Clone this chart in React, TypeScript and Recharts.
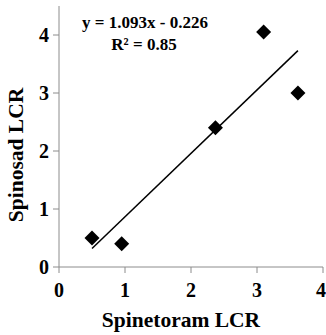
import { ScatterChart, Scatter, XAxis, YAxis, ReferenceLine } from 'recharts'

const spinetoramLcr = [0.5, 0.95, 2.37, 3.1, 3.62]
const spinosadLcr = [0.5, 0.4, 2.4, 4.05, 3.0]
const trendX = [0.5, 3.62]
const trendY = [0.32, 3.73]
const xTicks = [0, 1, 2, 3, 4]
const yTicks = [0, 1, 2, 3, 4]

const points = spinetoramLcr.map((x, i) => ({ x, y: spinosadLcr[i] }))

const FONT = '"Liberation Serif", "Times New Roman", serif'
const AXIS_COLOR = '#8c8c8c'

function Diamond(props: any) {
  const { cx, cy } = props
  const r = 7.5
  return <path d={`M${cx},${cy - r}L${cx + r},${cy}L${cx},${cy + r}L${cx - r},${cy}Z`} fill="#000" />
}

function App() {
  return (
    <div style={{ position: 'absolute', left: 0, top: 0, background: '#fff' }}>
      <ScatterChart width={326} height={335} margin={{ top: 6, right: 3, bottom: 0, left: 0 }}>
        <XAxis
          type="number"
          dataKey="x"
          domain={[0, 4]}
          ticks={xTicks}
          stroke={AXIS_COLOR}
          tickSize={6}
          tickMargin={10}
          height={68}
          tick={{ fill: '#000', fontSize: 20, fontWeight: 'bold', fontFamily: FONT }}
          allowDataOverflow
        />
        <YAxis
          type="number"
          dataKey="y"
          domain={[0, 4.5]}
          ticks={yTicks}
          stroke={AXIS_COLOR}
          tickSize={6}
          tickMargin={4}
          width={59}
          tick={{ fill: '#000', fontSize: 20, fontWeight: 'bold', fontFamily: FONT }}
          allowDataOverflow
        />
        <ReferenceLine
          segment={[{ x: trendX[0], y: trendY[0] }, { x: trendX[1], y: trendY[1] }]}
          stroke="#000"
          strokeWidth={1.5}
        />
        <Scatter data={points} shape={<Diamond />} isAnimationActive={false} />
        <text x={181} y={327} textAnchor="middle" fontSize={21.5} fontWeight="bold" fontFamily={FONT} fill="#000">
          Spinetoram LCR
        </text>
        <text
          x={0}
          y={0}
          transform="translate(23,155) rotate(-90)"
          textAnchor="middle"
          fontSize={21.5}
          fontWeight="bold"
          fontFamily={FONT}
          fill="#000"
        >
          Spinosad LCR
        </text>
        <text x={145} y={28} textAnchor="middle" fontSize={17} fontWeight="bold" fontFamily={FONT} fill="#000">
          y = 1.093x - 0.226
        </text>
        <text x={144} y={50} textAnchor="middle" fontSize={17} fontWeight="bold" fontFamily={FONT} fill="#000">
          R² = 0.85
        </text>
      </ScatterChart>
    </div>
  )
}

export default App
